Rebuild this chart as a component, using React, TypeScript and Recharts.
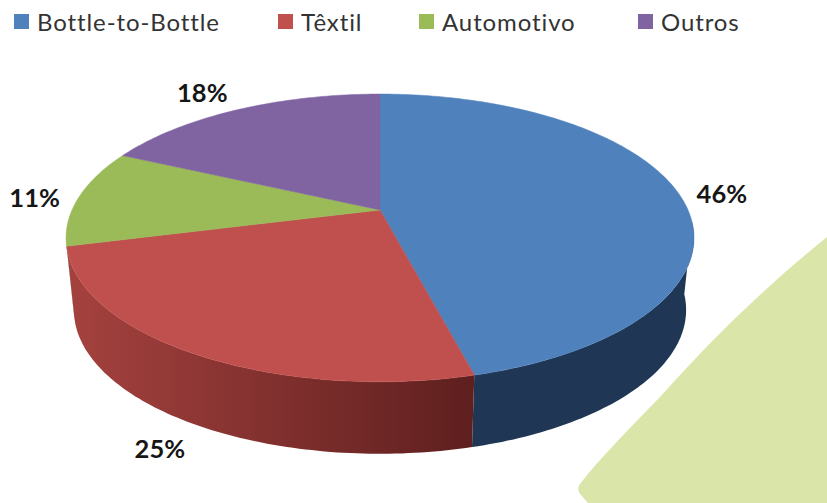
import { Legend, Pie, PieChart } from 'recharts'

const NAMES = ['Bottle-to-Bottle', 'Têxtil', 'Automotivo', 'Outros']
const SHARES = [46, 25, 11, 18]
const TOP_COLORS = ['#4f81bd', '#c0504d', '#9bbb59', '#8064a2']
const WALL_STOPS = [
  ['#1f3654', '#1f3654'],
  ['#a5423f', '#5e1f1e'],
  ['#5e7035', '#5e7035'],
  ['#4c3c61', '#4c3c61'],
]

const table = NAMES.map((name, i) => ({ name, value: SHARES[i], fill: TOP_COLORS[i] }))

// perspective of the tilted disc
const TILT = -0.194
const LIFT = 0.4495
const WALL_DROP = 72
const WALL_SHRINK = 0.975
const WALL_FROM = 95
const WALL_TO = 258

// clockwise degrees from 12 o'clock, rim * r
function project(cx: number, cy: number, radius: number, deg: number, r = 1) {
  const rad = (deg * Math.PI) / 180
  const X = Math.sin(rad) * r
  const Y = -Math.cos(rad) * r
  const den = 1 + TILT * Y
  return { x: cx + (radius * X) / den, y: cy + (radius * LIFT * Y) / den }
}

function arcPoints(cx: number, cy: number, radius: number, from: number, to: number) {
  const pts = []
  const steps = Math.max(2, Math.ceil(Math.abs(to - from)))
  for (let s = 0; s <= steps; s++) {
    pts.push(project(cx, cy, radius, from + ((to - from) * s) / steps))
  }
  return pts
}

const toPath = (pts: { x: number; y: number }[]) =>
  pts.map((p, i) => `${i ? 'L' : 'M'}${p.x.toFixed(1)},${p.y.toFixed(1)}`).join(' ') + ' Z'

function DiscSlice(props: any) {
  const { cx, cy, outerRadius, startAngle, endAngle, fill, index } = props
  const from = 90 - startAngle
  const to = 90 - endAngle
  const rim = arcPoints(cx, cy, outerRadius, from, to)
  const wallA = Math.max(from, WALL_FROM)
  const wallB = Math.min(to, WALL_TO)
  let wall = null
  if (wallB > wallA) {
    const upper = arcPoints(cx, cy, outerRadius, wallA, wallB)
    const lower = upper
      .map((p) => ({ x: cx + (p.x - cx) * WALL_SHRINK, y: p.y + WALL_DROP }))
      .reverse()
    const id = `wall-${index}`
    const xs = upper.map((p) => p.x)
    wall = (
      <g>
        <defs>
          <linearGradient
            id={id}
            gradientUnits="userSpaceOnUse"
            x1={Math.min(...xs)}
            x2={Math.max(...xs)}
            y1={0}
            y2={0}
          >
            <stop offset="0%" stopColor={WALL_STOPS[index][0]} />
            <stop offset="100%" stopColor={WALL_STOPS[index][1]} />
          </linearGradient>
        </defs>
        <path d={toPath([...upper, ...lower])} fill={`url(#${id})`} />
      </g>
    )
  }
  return (
    <g>
      {wall}
      <path d={toPath([{ x: cx, y: cy }, ...rim])} fill={fill} stroke={fill} strokeWidth={0.5} />
    </g>
  )
}

const LABEL_NUDGE = [
  [0, 2],
  [3, -4],
  [0, 2],
  [-18, -5],
]

function SliceLabel(props: any) {
  const { cx, cy, outerRadius, midAngle, value, index } = props
  const p = project(cx, cy, outerRadius, 90 - midAngle, 1.15)
  const isFront = Math.cos(((90 - midAngle) * Math.PI) / 180) < -0.5
  return (
    <text
      x={p.x + LABEL_NUDGE[index][0]}
      y={p.y + (isFront ? WALL_DROP : 0) + LABEL_NUDGE[index][1]}
      textAnchor="middle"
      dominantBaseline="central"
      fontFamily="Lato, sans-serif"
      fontWeight={700}
      fontSize={25.5}
      fill="#161616"
    >
      {value}%
    </text>
  )
}

const LEGEND_SLOTS = [264, 141, 219, 150]

function TopLegend({ payload }: any) {
  return (
    <div style={{ display: 'flex', paddingLeft: 14, paddingTop: 7 }}>
      {(payload ?? []).map((item: any, i: number) => (
        <div
          key={item.value}
          style={{
            width: LEGEND_SLOTS[i],
            flex: 'none',
            display: 'flex',
            alignItems: 'center',
            whiteSpace: 'nowrap',
            fontFamily: 'Lato, sans-serif',
            fontSize: 24,
            letterSpacing: 0.9,
            lineHeight: '29px',
            color: '#333333',
          }}
        >
          <span style={{ width: 15, height: 15, background: item.color, marginRight: 8 }} />
          {item.value}
        </div>
      ))}
    </div>
  )
}

export default function App() {
  return (
    <div style={{ position: 'absolute', left: 0, top: 0, width: 827, height: 503, overflow: 'hidden', background: '#fff' }}>
      <svg width={827} height={503} style={{ position: 'absolute', left: 0, top: 0 }}>
        <path
          d="M827,237 C770,283 715,335 660,397 C630,428 600,458 580,484 Q576,490 581,495 L588,503 L827,503 Z"
          fill="#d9e5a9"
        />
      </svg>
      <div style={{ position: 'absolute', left: 0, top: 0 }}>
        <PieChart width={827} height={503} margin={{ top: 0, right: 0, bottom: 0, left: 0 }}>
          <Legend
            verticalAlign="top"
            align="left"
            itemSorter={null}
            content={<TopLegend />}
            wrapperStyle={{ left: 0, top: 0, width: 827 }}
          />
          <Pie
            data={table}
            dataKey="value"
            nameKey="name"
            cx={380}
            cy={174}
            innerRadius={0}
            outerRadius={308}
            startAngle={90}
            endAngle={-270}
            paddingAngle={0}
            stroke="none"
            shape={DiscSlice}
            label={SliceLabel}
            labelLine={false}
            isAnimationActive={false}
          />
        </PieChart>
      </div>
    </div>
  )
}
